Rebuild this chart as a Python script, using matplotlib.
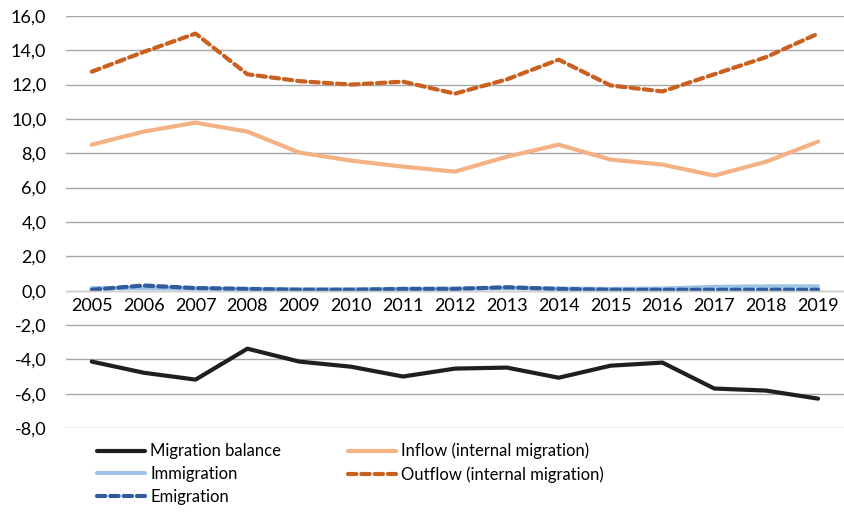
import matplotlib
matplotlib.use("Agg")
import matplotlib.pyplot as plt
from matplotlib.ticker import FuncFormatter

plt.rcParams['font.family'] = ['Lato', 'DejaVu Sans']

years = list(range(2005, 2020))
migration_balance = [-4.13, -4.78, -5.18, -3.38, -4.13, -4.43, -5.0, -4.54, -4.48, -5.07, -4.37, -4.19, -5.7, -5.82, -6.29]
inflow = [8.5, 9.26, 9.78, 9.26, 8.04, 7.57, 7.22, 6.93, 7.8, 8.5, 7.63, 7.34, 6.7, 7.51, 8.68]
outflow = [12.75, 13.9, 14.97, 12.6, 12.2, 12.0, 12.17, 11.47, 12.3, 13.45, 11.95, 11.6, 12.6, 13.6, 14.97]
immigration = [0.15, 0.15, 0.12, 0.1, 0.08, 0.08, 0.1, 0.12, 0.15, 0.12, 0.1, 0.12, 0.22, 0.25, 0.25]
emigration = [0.05, 0.3, 0.15, 0.1, 0.05, 0.05, 0.1, 0.1, 0.2, 0.1, 0.05, 0.05, 0.05, 0.05, 0.05]
yticks = [-8, -6, -4, -2, 0, 2, 4, 6, 8, 10, 12, 14, 16]

fig = plt.figure(figsize=(8.44, 5.12), dpi=100)
ax = fig.add_axes([0.078, 0.164, 0.922, 0.805])

lw = 3.0
ax.plot(years, migration_balance, color='#1f1f1f', lw=lw, label='Migration balance', solid_capstyle='round')
ax.plot(years, immigration, color='#9DC3E6', lw=lw, label='Immigration', solid_capstyle='round')
ax.plot(years, emigration, color='#2E5C9E', lw=lw, ls=(0, (2.0, 1.2)), label='Emigration', dash_capstyle='round')
ax.plot(years, inflow, color='#F4B183', lw=lw, label='Inflow (internal migration)', solid_capstyle='round')
ax.plot(years, outflow, color='#C9601F', lw=lw, ls=(0, (2.0, 1.2)), label='Outflow (internal migration)', dash_capstyle='round')

ax.set_xlim(2004.5, 2019.5)
ax.set_ylim(-8, 16)
ax.set_yticks(yticks)
ax.yaxis.set_major_formatter(FuncFormatter(lambda v, p: f"{v:.1f}".replace('.', ',')))
ax.set_xticks(years)
ax.grid(axis='y', color='#A6A6A6', lw=1.0)
ax.set_axisbelow(True)
for s in ['top', 'right', 'left']:
    ax.spines[s].set_visible(False)
ax.spines['bottom'].set_position(('data', 0))
ax.spines['bottom'].set_color('#D0D0D0')
ax.spines['bottom'].set_linewidth(1.0)
ax.tick_params(axis='both', length=0, labelsize=13, colors='#000000')
ax.tick_params(axis='y', pad=14)
ax.tick_params(axis='x', pad=5)

handles, labels = ax.get_legend_handles_labels()
leg = fig.legend(handles, labels, loc='upper left', bbox_to_anchor=(0.107, 0.148), ncol=2,
                 frameon=False, fontsize=12, handlelength=2.9, handletextpad=0.3,
                 columnspacing=4.0, labelspacing=0.4, borderaxespad=0)

fig.savefig('out.png', dpi=100)
